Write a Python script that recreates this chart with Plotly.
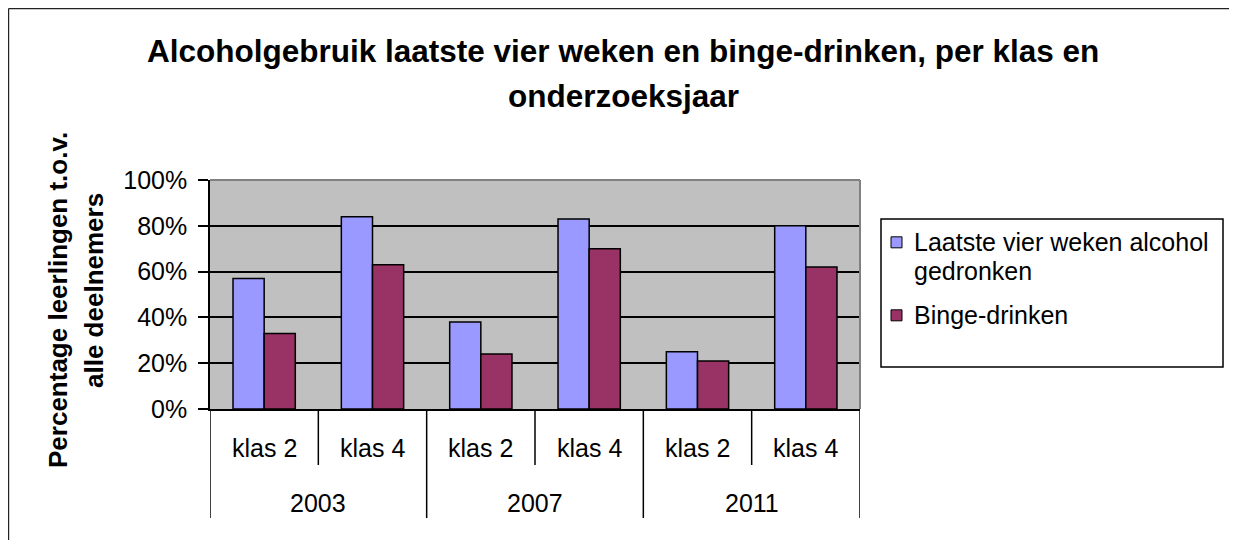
import plotly.graph_objects as go

years = ["2003", "2007", "2011"]
klassen = ["klas 2", "klas 4"]
alcohol = [0.57, 0.84, 0.38, 0.83, 0.25, 0.80]
binge = [0.33, 0.63, 0.24, 0.70, 0.21, 0.62]
series_names = ["Laatste vier weken alcohol gedronken", "Binge-drinken"]
legend_lines = [["Laatste vier weken alcohol", "gedronken"], ["Binge-drinken"]]
series_colors = ["#9999FF", "#993366"]
y_ticks = [0, 0.2, 0.4, 0.6, 0.8, 1.0]
title_lines = ["Alcoholgebruik laatste vier weken en binge-drinken, per klas en",
               "onderzoeksjaar"]
ytitle_lines = ["Percentage leerlingen t.o.v.", "alle deelnemers"]

cats = [f"{y} {k}" for y in years for k in klassen]

# page is offset by the 8px default body margin
OFF = 8
W, H = 1237 - OFF, 540 - OFF
L, R, T, B = 210, 860, 180, 409          # plot area in page pixels
FONT = "Liberation Sans, Arial, sans-serif"


def px_x(p):
    return (p - L) / (R - L)


def px_y(p):
    return (B - p) / (B - T)


def mid(baseline, size):
    return baseline - 0.347 * size


fig = go.Figure()
fig.add_trace(go.Bar(x=cats, y=alcohol, name=series_names[0],
                     marker=dict(color=series_colors[0], line=dict(color="black", width=1.5))))
fig.add_trace(go.Bar(x=cats, y=binge, name=series_names[1],
                     marker=dict(color=series_colors[1], line=dict(color="black", width=1.5))))

shapes = []
annotations = []
# outer chart border (top and left visible)
shapes.append(dict(type="line", xref="paper", yref="paper",
                   x0=px_x(8.6), x1=px_x(1237), y0=px_y(8.6), y1=px_y(8.6),
                   line=dict(color="#222", width=1.2), layer="below"))
shapes.append(dict(type="line", xref="paper", yref="paper",
                   x0=px_x(8.6), x1=px_x(8.6), y0=px_y(8.6), y1=px_y(548),
                   line=dict(color="#222", width=1.2), layer="below"))
# plot area gray border (top and right)
shapes.append(dict(type="line", xref="paper", yref="paper", x0=0, x1=1, y0=1, y1=1,
                   line=dict(color="#808080", width=2)))
shapes.append(dict(type="line", xref="paper", yref="paper", x0=1, x1=1, y0=0, y1=1,
                   line=dict(color="#808080", width=2)))
# category dividers
n = len(cats)
for i in range(n + 1):
    outer = (i % len(klassen) == 0)
    shapes.append(dict(type="line", xref="x", yref="paper", x0=i - 0.5, x1=i - 0.5,
                       y0=0, y1=px_y(518 if outer else 465),
                       line=dict(color="black", width=1.5)))
# category labels
for i, c in enumerate(cats):
    annotations.append(dict(x=i, y=px_y(mid(457, 25)), xref="x", yref="paper",
                            text=klassen[i % len(klassen)], showarrow=False,
                            font=dict(family=FONT, size=25, color="black"),
                            xanchor="center", yanchor="middle"))
for j, yr in enumerate(years):
    annotations.append(dict(x=j * len(klassen) + (len(klassen) - 1) / 2,
                            y=px_y(mid(512, 25)),
                            xref="x", yref="paper", text=yr, showarrow=False,
                            font=dict(family=FONT, size=25, color="black"),
                            xanchor="center", yanchor="middle"))
# title (two lines)
for txt, base in zip(title_lines, [62, 107]):
    annotations.append(dict(x=px_x(623), y=px_y(mid(base, 31.5)), xref="paper", yref="paper",
                            text=f"<b>{txt}</b>", showarrow=False,
                            font=dict(family=FONT, size=31.5, color="black"),
                            xanchor="center", yanchor="middle"))
# y axis title (two rotated lines)
for txt, base, yc in zip(ytitle_lines, [67, 103], [300, 290]):
    annotations.append(dict(x=px_x(mid(base, 26)), y=px_y(yc), xref="paper", yref="paper",
                            text=f"<b>{txt}</b>", textangle=-90, showarrow=False,
                            font=dict(family=FONT, size=26, color="black"),
                            xanchor="center", yanchor="middle"))
# legend box
shapes.append(dict(type="rect", xref="paper", yref="paper",
                   x0=px_x(881), x1=px_x(1223), y0=px_y(367), y1=px_y(219),
                   line=dict(color="black", width=1.5), fillcolor="white", layer="below"))
legend_bases = [[251, 280], [324]]
for color, lines, bases in zip(series_colors, legend_lines, legend_bases):
    cy = mid(bases[0], 25)
    shapes.append(dict(type="rect", xref="paper", yref="paper",
                       x0=px_x(891), x1=px_x(902), y0=px_y(cy + 5.5), y1=px_y(cy - 5.5),
                       line=dict(color="black", width=1), fillcolor=color))
    for txt, base in zip(lines, bases):
        annotations.append(dict(x=px_x(912), y=px_y(mid(base, 25)), xref="paper", yref="paper",
                                text=txt, showarrow=False,
                                font=dict(family=FONT, size=25, color="black"),
                                xanchor="left", yanchor="middle"))

fig.update_layout(
    width=W, height=H,
    margin=dict(l=L - OFF, r=W - (R - OFF), t=T - OFF, b=H - (B - OFF), pad=0),
    paper_bgcolor="white", plot_bgcolor="#C0C0C0",
    font=dict(family=FONT, size=25, color="black"),
    barmode="group", bargap=0.425, bargroupgap=0,
    showlegend=False,
    xaxis=dict(type="category", range=[-0.5, n - 0.5], showticklabels=False,
               ticks="", showgrid=False, showline=True, linecolor="black",
               linewidth=1.5, zeroline=False),
    yaxis=dict(range=[0, 1], tickvals=y_ticks, tickformat=".0%",
               ticks="outside", ticklen=10, tickcolor="black", tickwidth=1.5,
               showgrid=True, gridcolor="black", gridwidth=1.5,
               showline=True, linecolor="black", linewidth=1.5,
               zeroline=False, ticklabelstandoff=6,
               tickfont=dict(family=FONT, size=25, color="black")),
    shapes=shapes, annotations=annotations,
)

fig.write_html("out.html")
